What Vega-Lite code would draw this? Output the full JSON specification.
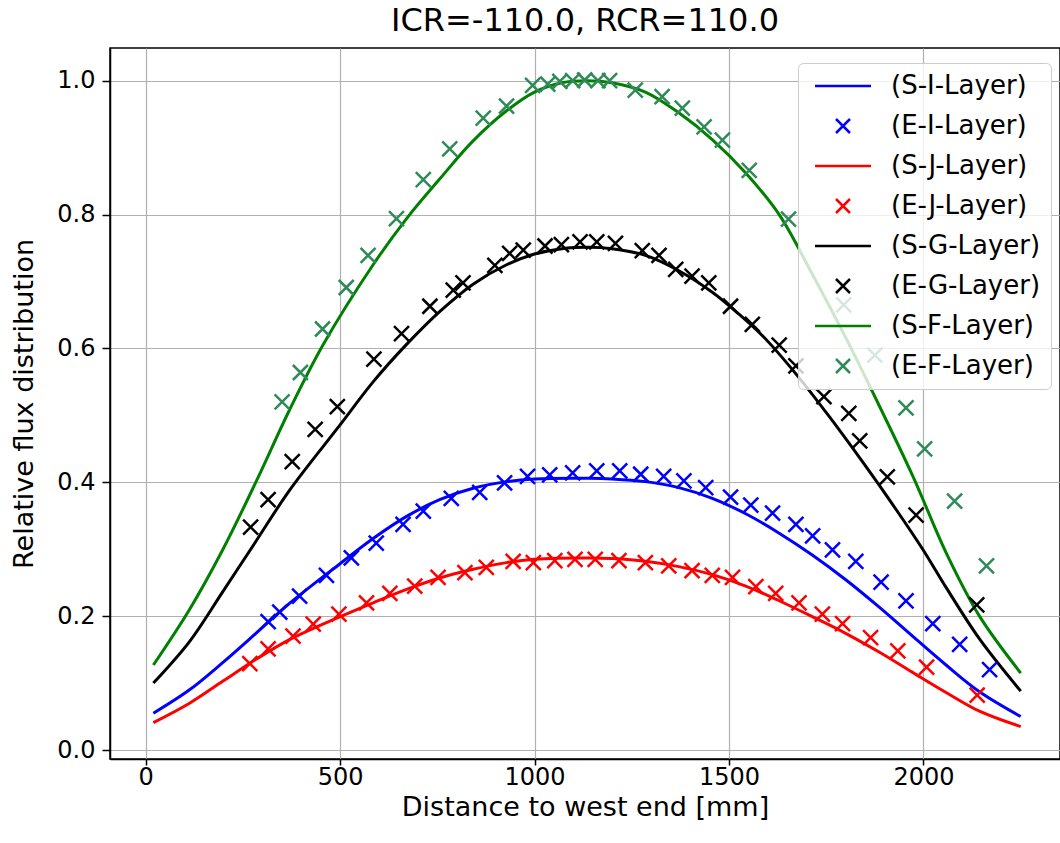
{
  "$schema": "https://vega.github.io/schema/vega-lite/v6.json",
  "width": 950,
  "height": 711,
  "autosize": {"type": "none"},
  "padding": {"left": 110, "top": 48, "right": 0, "bottom": 84},
  "background": "white",
  "title": {"text": "ICR=-110.0, RCR=110.0", "fontSize": 32, "font": "DejaVu Sans", "fontWeight": "normal", "color": "black", "anchor": "middle", "offset": 10},
  "config": {
    "view": {"stroke": "black", "strokeWidth": 1.5},
    "axis": {"labelFont": "DejaVu Sans", "titleFont": "DejaVu Sans", "labelFontSize": 24, "titleFontSize": 27, "titleFontWeight": "normal", "labelColor": "black", "titleColor": "black", "domainColor": "black", "domainWidth": 1.5, "tickColor": "black", "tickWidth": 1.5, "tickSize": 8, "labelPadding": 7, "gridColor": "#b0b0b0", "gridWidth": 1.2, "gridOpacity": 1},
    "legend": {"orient": "none", "legendX": 688, "legendY": 15, "labelFont": "DejaVu Sans", "labelFontSize": 26, "labelColor": "black", "fillColor": "rgba(255,255,255,0.8)", "strokeColor": "#cccccc", "cornerRadius": 5, "padding": 10, "rowPadding": 14, "symbolSize": 196, "symbolStrokeWidth": 2.5, "symbolFillColor": "transparent", "symbolOffset": 22, "labelOffset": 35, "labelLimit": 400}
  },
  "datasets": {
    "lines": [
      {"series": "(S-I-Layer)", "x": 20, "y": 0.055}, {"series": "(S-I-Layer)", "x": 113, "y": 0.09}, {"series": "(S-I-Layer)", "x": 199, "y": 0.131}, {"series": "(S-I-Layer)", "x": 285, "y": 0.175}, {"series": "(S-I-Layer)", "x": 370, "y": 0.219}, {"series": "(S-I-Layer)", "x": 499, "y": 0.278}, {"series": "(S-I-Layer)", "x": 585, "y": 0.316}, {"series": "(S-I-Layer)", "x": 671, "y": 0.349}, {"series": "(S-I-Layer)", "x": 756, "y": 0.374}, {"series": "(S-I-Layer)", "x": 842, "y": 0.391}, {"series": "(S-I-Layer)", "x": 928, "y": 0.401}, {"series": "(S-I-Layer)", "x": 1000, "y": 0.405}, {"series": "(S-I-Layer)", "x": 1142, "y": 0.406}, {"series": "(S-I-Layer)", "x": 1199, "y": 0.405}, {"series": "(S-I-Layer)", "x": 1285, "y": 0.401}, {"series": "(S-I-Layer)", "x": 1371, "y": 0.392}, {"series": "(S-I-Layer)", "x": 1457, "y": 0.376}, {"series": "(S-I-Layer)", "x": 1543, "y": 0.353}, {"series": "(S-I-Layer)", "x": 1629, "y": 0.324}, {"series": "(S-I-Layer)", "x": 1715, "y": 0.291}, {"series": "(S-I-Layer)", "x": 1801, "y": 0.254}, {"series": "(S-I-Layer)", "x": 1887, "y": 0.213}, {"series": "(S-I-Layer)", "x": 1972, "y": 0.17}, {"series": "(S-I-Layer)", "x": 2058, "y": 0.127}, {"series": "(S-I-Layer)", "x": 2144, "y": 0.087}, {"series": "(S-I-Layer)", "x": 2250, "y": 0.05},
      {"series": "(S-J-Layer)", "x": 20, "y": 0.041}, {"series": "(S-J-Layer)", "x": 113, "y": 0.07}, {"series": "(S-J-Layer)", "x": 199, "y": 0.103}, {"series": "(S-J-Layer)", "x": 285, "y": 0.136}, {"series": "(S-J-Layer)", "x": 370, "y": 0.165}, {"series": "(S-J-Layer)", "x": 499, "y": 0.199}, {"series": "(S-J-Layer)", "x": 585, "y": 0.22}, {"series": "(S-J-Layer)", "x": 671, "y": 0.24}, {"series": "(S-J-Layer)", "x": 756, "y": 0.257}, {"series": "(S-J-Layer)", "x": 842, "y": 0.27}, {"series": "(S-J-Layer)", "x": 928, "y": 0.28}, {"series": "(S-J-Layer)", "x": 1000, "y": 0.285}, {"series": "(S-J-Layer)", "x": 1142, "y": 0.287}, {"series": "(S-J-Layer)", "x": 1199, "y": 0.286}, {"series": "(S-J-Layer)", "x": 1285, "y": 0.282}, {"series": "(S-J-Layer)", "x": 1371, "y": 0.274}, {"series": "(S-J-Layer)", "x": 1457, "y": 0.262}, {"series": "(S-J-Layer)", "x": 1543, "y": 0.245}, {"series": "(S-J-Layer)", "x": 1629, "y": 0.223}, {"series": "(S-J-Layer)", "x": 1715, "y": 0.199}, {"series": "(S-J-Layer)", "x": 1801, "y": 0.174}, {"series": "(S-J-Layer)", "x": 1887, "y": 0.146}, {"series": "(S-J-Layer)", "x": 1972, "y": 0.116}, {"series": "(S-J-Layer)", "x": 2058, "y": 0.086}, {"series": "(S-J-Layer)", "x": 2144, "y": 0.058}, {"series": "(S-J-Layer)", "x": 2250, "y": 0.035},
      {"series": "(S-G-Layer)", "x": 20, "y": 0.1}, {"series": "(S-G-Layer)", "x": 113, "y": 0.162}, {"series": "(S-G-Layer)", "x": 199, "y": 0.237}, {"series": "(S-G-Layer)", "x": 285, "y": 0.313}, {"series": "(S-G-Layer)", "x": 370, "y": 0.388}, {"series": "(S-G-Layer)", "x": 499, "y": 0.485}, {"series": "(S-G-Layer)", "x": 585, "y": 0.55}, {"series": "(S-G-Layer)", "x": 671, "y": 0.606}, {"series": "(S-G-Layer)", "x": 756, "y": 0.655}, {"series": "(S-G-Layer)", "x": 842, "y": 0.696}, {"series": "(S-G-Layer)", "x": 928, "y": 0.725}, {"series": "(S-G-Layer)", "x": 1000, "y": 0.741}, {"series": "(S-G-Layer)", "x": 1070, "y": 0.749}, {"series": "(S-G-Layer)", "x": 1142, "y": 0.751}, {"series": "(S-G-Layer)", "x": 1199, "y": 0.749}, {"series": "(S-G-Layer)", "x": 1285, "y": 0.739}, {"series": "(S-G-Layer)", "x": 1371, "y": 0.716}, {"series": "(S-G-Layer)", "x": 1457, "y": 0.684}, {"series": "(S-G-Layer)", "x": 1500, "y": 0.664}, {"series": "(S-G-Layer)", "x": 1586, "y": 0.619}, {"series": "(S-G-Layer)", "x": 1672, "y": 0.562}, {"series": "(S-G-Layer)", "x": 1758, "y": 0.498}, {"series": "(S-G-Layer)", "x": 1844, "y": 0.43}, {"series": "(S-G-Layer)", "x": 1930, "y": 0.359}, {"series": "(S-G-Layer)", "x": 1998, "y": 0.3}, {"series": "(S-G-Layer)", "x": 2058, "y": 0.243}, {"series": "(S-G-Layer)", "x": 2144, "y": 0.166}, {"series": "(S-G-Layer)", "x": 2250, "y": 0.088},
      {"series": "(S-F-Layer)", "x": 20, "y": 0.127}, {"series": "(S-F-Layer)", "x": 113, "y": 0.21}, {"series": "(S-F-Layer)", "x": 199, "y": 0.3}, {"series": "(S-F-Layer)", "x": 285, "y": 0.402}, {"series": "(S-F-Layer)", "x": 370, "y": 0.508}, {"series": "(S-F-Layer)", "x": 456, "y": 0.605}, {"series": "(S-F-Layer)", "x": 585, "y": 0.725}, {"series": "(S-F-Layer)", "x": 671, "y": 0.794}, {"series": "(S-F-Layer)", "x": 756, "y": 0.853}, {"series": "(S-F-Layer)", "x": 842, "y": 0.91}, {"series": "(S-F-Layer)", "x": 928, "y": 0.955}, {"series": "(S-F-Layer)", "x": 1000, "y": 0.983}, {"series": "(S-F-Layer)", "x": 1070, "y": 0.997}, {"series": "(S-F-Layer)", "x": 1135, "y": 1.0}, {"series": "(S-F-Layer)", "x": 1199, "y": 0.997}, {"series": "(S-F-Layer)", "x": 1285, "y": 0.983}, {"series": "(S-F-Layer)", "x": 1371, "y": 0.952}, {"series": "(S-F-Layer)", "x": 1457, "y": 0.912}, {"series": "(S-F-Layer)", "x": 1543, "y": 0.862}, {"series": "(S-F-Layer)", "x": 1629, "y": 0.8}, {"series": "(S-F-Layer)", "x": 1715, "y": 0.71}, {"series": "(S-F-Layer)", "x": 1801, "y": 0.615}, {"series": "(S-F-Layer)", "x": 1869, "y": 0.535}, {"series": "(S-F-Layer)", "x": 1972, "y": 0.41}, {"series": "(S-F-Layer)", "x": 2058, "y": 0.295}, {"series": "(S-F-Layer)", "x": 2144, "y": 0.2}, {"series": "(S-F-Layer)", "x": 2250, "y": 0.115}
    ],
    "markers": [
      {"series": "(E-I-Layer)", "x": 315, "y": 0.192}, {"series": "(E-I-Layer)", "x": 345, "y": 0.206}, {"series": "(E-I-Layer)", "x": 396, "y": 0.23}, {"series": "(E-I-Layer)", "x": 465, "y": 0.261}, {"series": "(E-I-Layer)", "x": 529, "y": 0.287}, {"series": "(E-I-Layer)", "x": 593, "y": 0.309}, {"series": "(E-I-Layer)", "x": 662, "y": 0.337}, {"series": "(E-I-Layer)", "x": 714, "y": 0.357}, {"series": "(E-I-Layer)", "x": 786, "y": 0.376}, {"series": "(E-I-Layer)", "x": 859, "y": 0.385}, {"series": "(E-I-Layer)", "x": 923, "y": 0.399}, {"series": "(E-I-Layer)", "x": 982, "y": 0.409}, {"series": "(E-I-Layer)", "x": 1039, "y": 0.411}, {"series": "(E-I-Layer)", "x": 1098, "y": 0.414}, {"series": "(E-I-Layer)", "x": 1160, "y": 0.417}, {"series": "(E-I-Layer)", "x": 1219, "y": 0.417}, {"series": "(E-I-Layer)", "x": 1273, "y": 0.412}, {"series": "(E-I-Layer)", "x": 1332, "y": 0.409}, {"series": "(E-I-Layer)", "x": 1384, "y": 0.402}, {"series": "(E-I-Layer)", "x": 1440, "y": 0.392}, {"series": "(E-I-Layer)", "x": 1504, "y": 0.378}, {"series": "(E-I-Layer)", "x": 1556, "y": 0.366}, {"series": "(E-I-Layer)", "x": 1612, "y": 0.354}, {"series": "(E-I-Layer)", "x": 1672, "y": 0.337}, {"series": "(E-I-Layer)", "x": 1715, "y": 0.32}, {"series": "(E-I-Layer)", "x": 1766, "y": 0.299}, {"series": "(E-I-Layer)", "x": 1826, "y": 0.282}, {"series": "(E-I-Layer)", "x": 1891, "y": 0.251}, {"series": "(E-I-Layer)", "x": 1955, "y": 0.223}, {"series": "(E-I-Layer)", "x": 2024, "y": 0.189}, {"series": "(E-I-Layer)", "x": 2093, "y": 0.158}, {"series": "(E-I-Layer)", "x": 2170, "y": 0.12},
      {"series": "(E-J-Layer)", "x": 268, "y": 0.129}, {"series": "(E-J-Layer)", "x": 315, "y": 0.151}, {"series": "(E-J-Layer)", "x": 379, "y": 0.17}, {"series": "(E-J-Layer)", "x": 431, "y": 0.188}, {"series": "(E-J-Layer)", "x": 497, "y": 0.203}, {"series": "(E-J-Layer)", "x": 568, "y": 0.22}, {"series": "(E-J-Layer)", "x": 628, "y": 0.234}, {"series": "(E-J-Layer)", "x": 692, "y": 0.245}, {"series": "(E-J-Layer)", "x": 752, "y": 0.258}, {"series": "(E-J-Layer)", "x": 821, "y": 0.265}, {"series": "(E-J-Layer)", "x": 876, "y": 0.273}, {"series": "(E-J-Layer)", "x": 945, "y": 0.282}, {"series": "(E-J-Layer)", "x": 997, "y": 0.28}, {"series": "(E-J-Layer)", "x": 1052, "y": 0.283}, {"series": "(E-J-Layer)", "x": 1104, "y": 0.285}, {"series": "(E-J-Layer)", "x": 1156, "y": 0.285}, {"series": "(E-J-Layer)", "x": 1217, "y": 0.283}, {"series": "(E-J-Layer)", "x": 1285, "y": 0.28}, {"series": "(E-J-Layer)", "x": 1345, "y": 0.275}, {"series": "(E-J-Layer)", "x": 1405, "y": 0.268}, {"series": "(E-J-Layer)", "x": 1457, "y": 0.261}, {"series": "(E-J-Layer)", "x": 1509, "y": 0.258}, {"series": "(E-J-Layer)", "x": 1569, "y": 0.244}, {"series": "(E-J-Layer)", "x": 1620, "y": 0.234}, {"series": "(E-J-Layer)", "x": 1680, "y": 0.22}, {"series": "(E-J-Layer)", "x": 1740, "y": 0.203}, {"series": "(E-J-Layer)", "x": 1792, "y": 0.189}, {"series": "(E-J-Layer)", "x": 1864, "y": 0.168}, {"series": "(E-J-Layer)", "x": 1934, "y": 0.148}, {"series": "(E-J-Layer)", "x": 2008, "y": 0.124}, {"series": "(E-J-Layer)", "x": 2138, "y": 0.082},
      {"series": "(E-G-Layer)", "x": 270, "y": 0.333}, {"series": "(E-G-Layer)", "x": 315, "y": 0.374}, {"series": "(E-G-Layer)", "x": 377, "y": 0.431}, {"series": "(E-G-Layer)", "x": 436, "y": 0.479}, {"series": "(E-G-Layer)", "x": 493, "y": 0.513}, {"series": "(E-G-Layer)", "x": 587, "y": 0.584}, {"series": "(E-G-Layer)", "x": 658, "y": 0.622}, {"series": "(E-G-Layer)", "x": 731, "y": 0.663}, {"series": "(E-G-Layer)", "x": 791, "y": 0.687}, {"series": "(E-G-Layer)", "x": 816, "y": 0.698}, {"series": "(E-G-Layer)", "x": 898, "y": 0.724}, {"series": "(E-G-Layer)", "x": 936, "y": 0.742}, {"series": "(E-G-Layer)", "x": 971, "y": 0.747}, {"series": "(E-G-Layer)", "x": 1027, "y": 0.753}, {"series": "(E-G-Layer)", "x": 1069, "y": 0.755}, {"series": "(E-G-Layer)", "x": 1117, "y": 0.759}, {"series": "(E-G-Layer)", "x": 1160, "y": 0.759}, {"series": "(E-G-Layer)", "x": 1208, "y": 0.757}, {"series": "(E-G-Layer)", "x": 1277, "y": 0.746}, {"series": "(E-G-Layer)", "x": 1320, "y": 0.739}, {"series": "(E-G-Layer)", "x": 1363, "y": 0.718}, {"series": "(E-G-Layer)", "x": 1405, "y": 0.708}, {"series": "(E-G-Layer)", "x": 1448, "y": 0.698}, {"series": "(E-G-Layer)", "x": 1504, "y": 0.663}, {"series": "(E-G-Layer)", "x": 1560, "y": 0.636}, {"series": "(E-G-Layer)", "x": 1629, "y": 0.605}, {"series": "(E-G-Layer)", "x": 1672, "y": 0.574}, {"series": "(E-G-Layer)", "x": 1744, "y": 0.528}, {"series": "(E-G-Layer)", "x": 1808, "y": 0.503}, {"series": "(E-G-Layer)", "x": 1836, "y": 0.462}, {"series": "(E-G-Layer)", "x": 1907, "y": 0.408}, {"series": "(E-G-Layer)", "x": 1981, "y": 0.351}, {"series": "(E-G-Layer)", "x": 2137, "y": 0.217},
      {"series": "(E-F-Layer)", "x": 351, "y": 0.52}, {"series": "(E-F-Layer)", "x": 398, "y": 0.564}, {"series": "(E-F-Layer)", "x": 455, "y": 0.629}, {"series": "(E-F-Layer)", "x": 516, "y": 0.691}, {"series": "(E-F-Layer)", "x": 572, "y": 0.739}, {"series": "(E-F-Layer)", "x": 645, "y": 0.794}, {"series": "(E-F-Layer)", "x": 714, "y": 0.852}, {"series": "(E-F-Layer)", "x": 782, "y": 0.898}, {"series": "(E-F-Layer)", "x": 868, "y": 0.944}, {"series": "(E-F-Layer)", "x": 928, "y": 0.962}, {"series": "(E-F-Layer)", "x": 995, "y": 0.993}, {"series": "(E-F-Layer)", "x": 1034, "y": 0.995}, {"series": "(E-F-Layer)", "x": 1065, "y": 0.999}, {"series": "(E-F-Layer)", "x": 1098, "y": 1.0}, {"series": "(E-F-Layer)", "x": 1129, "y": 1.001}, {"series": "(E-F-Layer)", "x": 1163, "y": 1.0}, {"series": "(E-F-Layer)", "x": 1193, "y": 1.0}, {"series": "(E-F-Layer)", "x": 1259, "y": 0.986}, {"series": "(E-F-Layer)", "x": 1328, "y": 0.976}, {"series": "(E-F-Layer)", "x": 1380, "y": 0.959}, {"series": "(E-F-Layer)", "x": 1436, "y": 0.931}, {"series": "(E-F-Layer)", "x": 1483, "y": 0.911}, {"series": "(E-F-Layer)", "x": 1552, "y": 0.866}, {"series": "(E-F-Layer)", "x": 1653, "y": 0.793}, {"series": "(E-F-Layer)", "x": 1795, "y": 0.665}, {"series": "(E-F-Layer)", "x": 1875, "y": 0.59}, {"series": "(E-F-Layer)", "x": 1955, "y": 0.511}, {"series": "(E-F-Layer)", "x": 2003, "y": 0.45}, {"series": "(E-F-Layer)", "x": 2080, "y": 0.372}, {"series": "(E-F-Layer)", "x": 2162, "y": 0.275}
    ]
  },
  "encoding": {
    "x": {"field": "x", "type": "quantitative", "scale": {"domain": [-91.5, 2351], "nice": false, "zero": false}, "axis": {"values": [0, 500, 1000, 1500, 2000], "format": "d", "title": "Distance to west end [mm]", "tickSize": 6, "labelPadding": 0, "titlePadding": 5, "labelFlush": false}},
    "y": {"field": "y", "type": "quantitative", "scale": {"domain": [-0.0134, 1.0488], "nice": false, "zero": false}, "axis": {"values": [0, 0.2, 0.4, 0.6, 0.8, 1.0], "format": ".1f", "title": "Relative flux distribution", "titlePadding": 18}},
    "color": {"field": "series", "type": "nominal", "title": null,
      "scale": {"domain": ["(S-I-Layer)", "(E-I-Layer)", "(S-J-Layer)", "(E-J-Layer)", "(S-G-Layer)", "(E-G-Layer)", "(S-F-Layer)", "(E-F-Layer)"],
                "range": ["#0000ff", "#0000ff", "#ff0000", "#ff0000", "#000000", "#000000", "#008000", "#2e8b57"]}}
  },
  "layer": [
    {
      "data": {"name": "lines"},
      "mark": {"type": "line", "strokeWidth": 3, "interpolate": "catmull-rom"}
    },
    {
      "data": {"name": "markers"},
      "mark": {"type": "point", "filled": false, "strokeWidth": 2.5, "size": 225, "opacity": 1},
      "encoding": {
        "shape": {"field": "series", "type": "nominal", "title": null,
          "scale": {"domain": ["(S-I-Layer)", "(E-I-Layer)", "(S-J-Layer)", "(E-J-Layer)", "(S-G-Layer)", "(E-G-Layer)", "(S-F-Layer)", "(E-F-Layer)"],
                    "range": ["M-4,0L4,0", "M-1,-1L1,1M-1,1L1,-1", "M-4,0L4,0", "M-1,-1L1,1M-1,1L1,-1", "M-4,0L4,0", "M-1,-1L1,1M-1,1L1,-1", "M-4,0L4,0", "M-1,-1L1,1M-1,1L1,-1"]}}
      }
    }
  ]
}
